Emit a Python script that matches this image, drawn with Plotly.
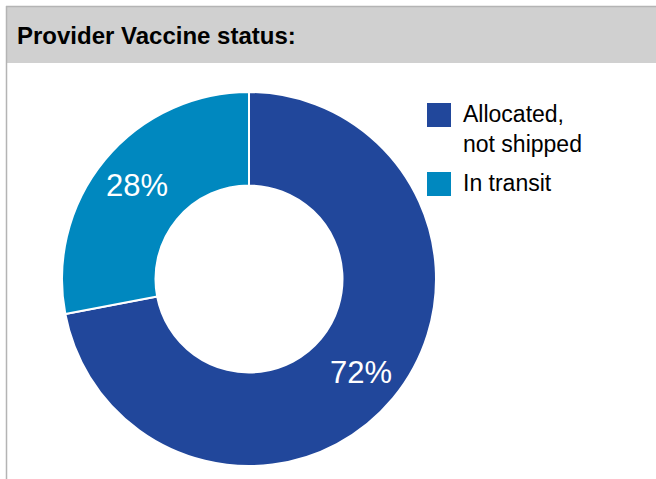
import math
import plotly.graph_objects as go

# Provider vaccine status breakdown
labels = ["Allocated,<br>not shipped", "In transit"]
values = [72, 28]
colors = ["#21479B", "#0088BF"]

W, H = 656, 479
title_text = "Provider Vaccine status:"
FONT = "Liberation Sans, Arial, sans-serif"

# donut geometry in pixels
cx, cy, r = 249, 279, 187
label_r = 146

fig = go.Figure(
    go.Pie(
        labels=labels,
        values=values,
        hole=0.5,
        sort=False,
        direction="clockwise",
        rotation=0,
        marker=dict(colors=colors, line=dict(color="white", width=2)),
        textinfo="none",
        domain=dict(
            x=[(cx - r) / W, (cx + r) / W],
            y=[1 - (cy + r) / H, 1 - (cy - r) / H],
        ),
        showlegend=False,
        hoverinfo="label+percent",
    )
)

shapes = [
    # header band
    dict(type="rect", xref="paper", yref="paper",
         x0=7 / W, x1=1, y0=1 - 63 / H, y1=1 - 6 / H,
         fillcolor="#D0D0D0", line=dict(width=0), layer="below"),
    # top border of the panel
    dict(type="line", xref="paper", yref="paper",
         x0=6 / W, x1=1, y0=1 - 6.5 / H, y1=1 - 6.5 / H,
         line=dict(color="#B4B4B4", width=1.5)),
    # left border of the panel
    dict(type="line", xref="paper", yref="paper",
         x0=6.5 / W, x1=6.5 / W, y0=0, y1=1 - 6 / H,
         line=dict(color="#B4B4B4", width=1.5)),
]

annotations = [
    dict(text="<b>" + title_text + "</b>", xref="paper", yref="paper",
         x=15 / W, y=1 - 36 / H, xanchor="left", yanchor="middle",
         showarrow=False,
         font=dict(family=FONT, size=24, color="#000000")),
]

# percentage labels at the middle angle of each slice (clockwise from 12 o'clock)
total = sum(values)
start = 0.0
for v in values:
    frac = v / total
    mid = (start + frac / 2) * 2 * math.pi
    px = cx + label_r * math.sin(mid)
    py = cy - label_r * math.cos(mid)
    annotations.append(dict(text=f"{round(frac * 100)}%", xref="paper", yref="paper",
                            x=px / W, y=1 - py / H, xanchor="center", yanchor="middle",
                            showarrow=False,
                            font=dict(family=FONT, size=31, color="white")))
    start += frac

# custom legend with large square swatches
legend_rows = [103, 172]
for lab, col, top in zip(labels, colors, legend_rows):
    shapes.append(dict(type="rect", xref="paper", yref="paper",
                       x0=427 / W, x1=451 / W, y0=1 - (top + 24) / H, y1=1 - top / H,
                       fillcolor=col, line=dict(width=0)))
    annotations.append(dict(text=lab, xref="paper", yref="paper",
                            x=461 / W, y=1 - (top - 4) / H,
                            xanchor="left", yanchor="top", align="left",
                            showarrow=False,
                            font=dict(family=FONT, size=23, color="#000000")))

fig.update_layout(
    width=W, height=H,
    margin=dict(l=0, r=0, t=0, b=0),
    paper_bgcolor="white",
    plot_bgcolor="white",
    shapes=shapes,
    annotations=annotations,
)

fig.write_html("out.html")
